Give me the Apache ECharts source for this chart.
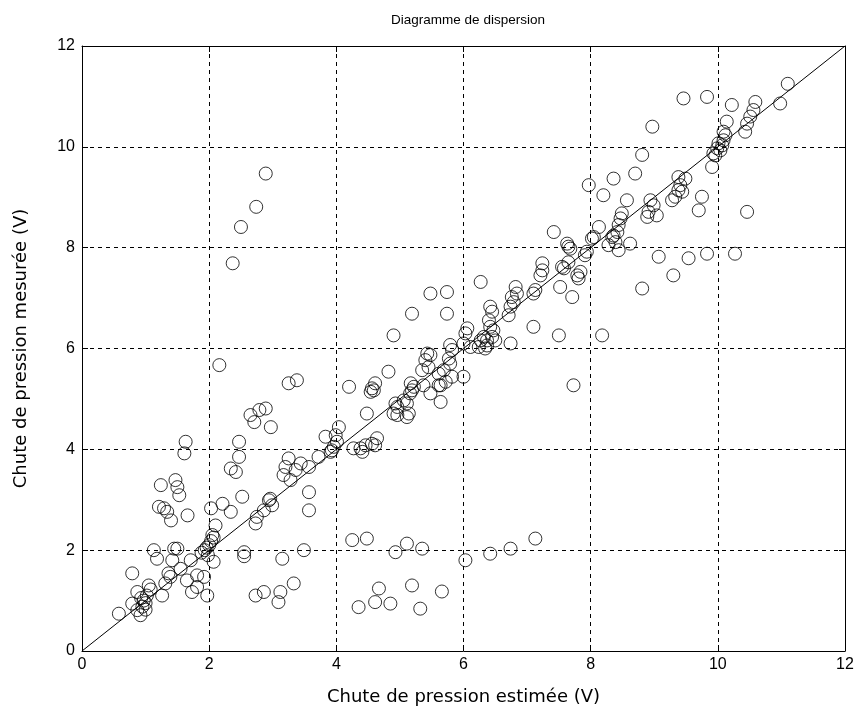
<!DOCTYPE html>
<html>
<head>
<meta charset="utf-8">
<script src="https://cdn.jsdelivr.net/npm/echarts@6/dist/echarts.min.js"></script>
<style>html,body{margin:0;padding:0;background:#fff}#c{width:861px;height:717px}</style>
</head>
<body>
<div id="c"></div>
<script>
const titleText = "Diagramme de dispersion";
const xName = "Chute de pression estimée (V)";
const yName = "Chute de pression mesurée (V)";
const axisTicks = [0, 2, 4, 6, 8, 10, 12];
const refLine = [[0, 0], [12, 12]];

// estimated (x) and measured (y) pressure drops
const estimated = [
0.58,0.79,0.79,0.87,0.92,0.87,0.95,0.97,1.00,1.02,1.05,1.08,0.93,1.00,1.13,1.18,1.21,1.24,1.29,1.34,1.40,1.26,1.31,1.36,1.39,1.42,1.45,1.47,1.50,1.53,1.50,1.55,1.61,1.63,1.66,1.65,1.71,1.73,1.81,1.81,1.92,1.97,1.88,1.93,1.96,2.00,2.03,2.07,1.98,2.05,2.03,2.07,2.10,2.16,2.21,2.34,2.37,2.34,2.42,2.47,2.47,2.50,2.52,2.55,2.55,
2.65,2.71,2.79,2.89,2.97,2.74,2.89,2.73,2.75,2.86,2.94,2.99,2.96,2.73,2.86,3.09,3.12,3.33,3.15,3.49,3.17,3.20,3.25,3.28,3.36,3.44,3.25,3.38,3.57,3.57,3.57,3.72,3.83,3.91,3.93,3.96,3.99,4.01,4.04,
4.20,4.25,4.27,4.38,4.41,4.46,4.56,4.61,4.64,4.35,4.48,4.48,4.54,4.56,4.61,4.59,4.61,4.67,4.82,4.85,4.90,4.90,4.93,4.93,4.96,4.96,5.06,5.11,5.11,5.11,5.14,5.16,5.17,5.19,5.22,5.19,5.19,5.32,5.35,5.37,5.35,5.40,5.43,5.45,5.48,5.48,5.48,
5.61,5.61,5.64,5.64,5.66,5.69,5.72,5.74,5.74,5.77,5.79,5.79,5.82,5.82,6.00,6.03,6.00,6.03,6.06,6.11,6.24,6.27,6.27,6.32,6.34,6.37,6.37,6.40,6.42,6.42,6.45,6.45,6.47,6.50,6.42,6.71,6.74,6.74,6.76,6.79,6.82,6.84,6.74,
7.10,7.13,7.10,7.13,7.21,7.24,7.24,7.42,7.50,7.52,7.55,7.58,7.65,7.63,7.68,7.65,7.71,7.73,7.79,7.81,7.84,7.91,7.94,7.97,8.02,8.05,8.13,8.18,8.20,8.28,8.34,8.36,8.36,8.39,8.42,8.44,8.44,8.47,8.49,8.57,8.62,
8.70,8.81,8.81,8.89,8.91,8.94,8.99,9.04,8.97,9.07,9.28,9.30,9.33,9.38,9.38,9.41,9.44,9.49,9.46,9.54,9.70,9.75,9.83,9.83,9.91,9.93,9.96,9.99,10.01,10.04,10.07,10.09,10.12,10.09,10.14,10.22,10.27,10.43,10.46,10.46,10.51,10.56,10.59,10.98,11.10
];
const measured = [
0.74,1.54,0.94,0.81,0.71,1.17,0.88,1.00,0.82,1.10,1.30,1.22,1.05,0.95,2.00,1.83,2.86,3.29,2.83,2.76,2.59,1.10,1.34,1.54,1.47,1.80,2.03,3.39,3.25,3.09,2.03,1.63,3.92,4.15,2.69,1.40,1.80,1.17,1.27,1.50,1.47,1.10,1.95,2.00,2.05,2.10,2.18,2.25,1.90,2.30,2.83,1.77,2.49,5.67,2.92,2.76,7.69,3.62,3.55,3.85,4.15,8.41,3.06,1.96,1.88,
4.68,4.54,4.78,4.81,4.44,8.81,9.47,2.53,2.66,2.79,2.99,2.89,3.02,1.10,1.17,0.97,1.17,1.34,1.83,2.00,3.49,3.65,3.82,3.39,3.59,3.72,5.31,5.37,3.15,2.79,3.65,3.85,4.25,3.95,3.98,4.05,4.28,4.15,4.44,
5.24,2.20,4.02,4.02,3.95,4.08,4.11,4.08,4.22,0.87,2.23,4.71,5.14,5.21,5.31,5.17,0.97,1.24,5.54,0.94,6.26,4.71,1.96,4.91,4.68,4.84,4.97,4.64,4.91,2.13,4.71,5.11,5.31,5.17,5.24,1.30,6.69,0.84,2.03,5.27,5.57,5.77,5.90,5.63,5.87,5.11,7.09,
5.50,5.27,4.94,5.27,1.18,5.57,5.34,7.12,6.69,5.80,5.70,6.07,5.97,5.44,5.44,1.80,6.10,6.30,6.40,6.03,6.03,6.16,7.32,6.23,6.00,6.06,6.16,6.56,6.43,6.83,6.73,6.23,6.36,6.16,1.93,6.66,6.10,6.83,7.02,6.92,7.22,7.09,2.03,
6.43,2.23,7.09,7.16,7.45,7.55,7.69,8.31,6.26,7.22,7.62,7.59,7.71,8.08,7.98,8.02,7.02,5.27,7.45,7.39,7.52,7.85,7.92,9.24,8.18,8.21,8.41,6.26,9.04,8.05,8.21,9.37,8.24,8.11,8.31,8.45,7.95,8.58,8.68,8.94,8.08,
9.47,9.84,7.19,8.61,8.71,8.94,8.84,8.64,10.40,7.82,8.94,7.45,9.01,9.14,9.40,9.24,9.11,9.37,10.96,7.79,8.74,9.01,7.88,10.99,9.60,9.87,9.83,9.97,10.07,9.93,10.03,10.13,10.23,10.30,10.50,10.83,7.88,10.30,10.46,8.71,10.60,10.73,10.89,10.86,11.25
];

const points = estimated.map((x, i) => [x, measured[i]]);
const font = "'Liberation Sans', Arial, sans-serif";
const nameFont = "'DejaVu Sans', sans-serif";
const chart = echarts.init(document.getElementById('c'), null, {renderer: 'canvas'});

const baseAxis = {
  type: 'value', min: 0, max: 12, interval: 2,
  axisLine: {show: true, onZero: false, lineStyle: {color: '#000', width: 1}},
  axisTick: {show: true, inside: true, length: 6, lineStyle: {color: '#000'}},
  splitLine: {show: false}
};

chart.setOption({
  animation: false,
  backgroundColor: '#fff',
  title: {
    text: titleText, left: 463, top: 8, textAlign: 'center',
    textStyle: {fontFamily: font, fontSize: 13.5, fontWeight: 'normal', color: '#000'}
  },
  grid: {left: 82, right: 16, top: 46, bottom: 66, containLabel: false},
  xAxis: [
    Object.assign({}, baseAxis, {
      position: 'bottom',
      name: xName, nameLocation: 'middle', nameGap: 37,
      nameTextStyle: {fontFamily: nameFont, fontSize: 18, color: '#000'},
      axisLabel: {show: true, margin: 6, fontFamily: font, fontSize: 16, color: '#000',
        formatter: v => axisTicks.includes(v) ? String(v) : ''},
      splitLine: {show: true, lineStyle: {type: [4, 4], color: '#000', width: 1}}
    }),
    Object.assign({}, baseAxis, {position: 'top', axisLabel: {show: false}})
  ],
  yAxis: [
    Object.assign({}, baseAxis, {
      position: 'left',
      name: yName, nameLocation: 'middle', nameGap: 52, nameRotate: 90,
      nameTextStyle: {fontFamily: nameFont, fontSize: 18, color: '#000'},
      axisLabel: {show: true, margin: 7, fontFamily: font, fontSize: 16, color: '#000',
        formatter: v => axisTicks.includes(v) ? String(v) : ''},
      splitLine: {show: true, lineStyle: {type: [4, 4], color: '#000', width: 1}}
    }),
    Object.assign({}, baseAxis, {position: 'right', axisLabel: {show: false}})
  ],
  series: [
    {
      type: 'line', data: refLine, xAxisIndex: 0, yAxisIndex: 0,
      showSymbol: false, symbol: 'none', silent: true,
      lineStyle: {color: '#000', width: 1}, z: 3
    },
    {
      type: 'scatter', data: points, xAxisIndex: 0, yAxisIndex: 0,
      symbol: 'circle', symbolSize: 13,
      itemStyle: {color: 'rgba(0,0,0,0)', borderColor: '#000', borderWidth: 1},
      z: 4
    }
  ]
});
</script>
</body>
</html>
